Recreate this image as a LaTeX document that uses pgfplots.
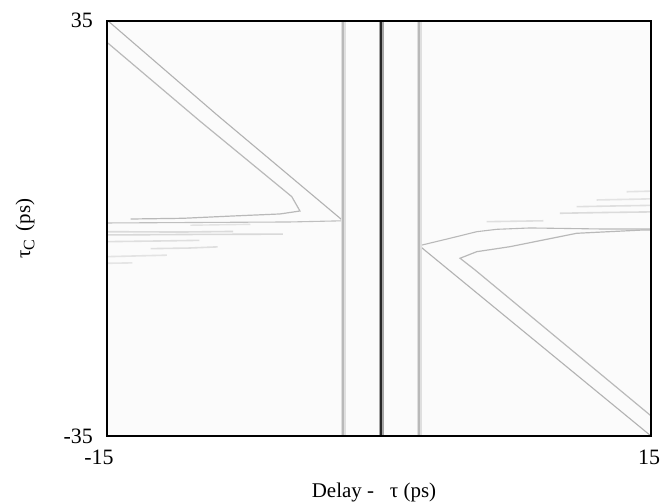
\documentclass[border=0pt]{standalone}
\usepackage{fontspec}
\setmainfont{Liberation Serif}
\usepackage{pgfplots}
\pgfplotsset{compat=1.18}
\begin{document}
\begin{tikzpicture}[x=1bp,y=1bp]
\useasboundingbox (0,0) rectangle (672,504);
\begin{axis}[
  at={(107bp,68bp)}, anchor=south west,
  scale only axis, width=544bp, height=415bp,
  xmin=-15, xmax=15, ymin=-35, ymax=35,
  xtick={-15,15}, xticklabels={{-15\kern16bp},{15\kern4bp}},
  ytick={-35,35}, yticklabels={-35,\raisebox{2bp}{35}},
  major tick length=0pt,
  axis on top,
  axis line style={line width=2.5bp},
  axis background/.style={fill=gray!3},
  tick label style={font=\fontsize{22}{24}\selectfont},
  xticklabel style={anchor=north, inner sep=0pt, yshift=-14bp},
  yticklabel style={anchor=east, inner sep=0pt, xshift=-14bp},
  xlabel={Delay -\hspace{0.76em}τ (ps)},
  ylabel={τ\raisebox{-0.45ex}{\fontsize{16}{18}\selectfont C}\hspace{0.15em} (ps)},
  label style={font=\fontsize{21}{24}\selectfont},
  xlabel style={at={(axis description cs:0.5,0)}, anchor=base, yshift=-62bp, xshift=-5bp},
  ylabel style={at={(axis description cs:0,0.5)}, anchor=center, yshift=82bp},
]
% faint streaks (left)
\addplot[gray!28, line width=1.6bp] coordinates {(-15,-0.54) (-11,-0.6) (-8.05,-0.5)};
\addplot[gray!30, line width=1.6bp] coordinates {(-15,-1.09) (-10,-1.0) (-5.3,-0.95)};
\addplot[gray!25, line width=1.6bp] coordinates {(-15,-2.22) (-12,-2.1) (-9.9,-2.0)};
\addplot[gray!25, line width=1.6bp] coordinates {(-12.6,-3.4) (-10.5,-3.3) (-8.9,-3.1)};
\addplot[gray!22, line width=1.6bp] coordinates {(-15,-4.75) (-13,-4.6) (-11.7,-4.5)};
\addplot[gray!20, line width=1.6bp] coordinates {(-15,-5.87) (-13.6,-5.8)};
\addplot[gray!22, line width=1.4bp] coordinates {(-10.4,0.55) (-7.1,0.7)};
% faint streaks (right)
\addplot[gray!25, line width=1.6bp] coordinates {(5.94,1.15) (9.06,1.3)};
\addplot[gray!28, line width=1.6bp] coordinates {(9.98,2.57) (12.5,2.7) (15,2.8)};
\addplot[gray!25, line width=1.6bp] coordinates {(10.9,3.68) (13,3.8) (15,3.9)};
\addplot[gray!22, line width=1.6bp] coordinates {(12.0,4.81) (15,5.0)};
\addplot[gray!22, line width=1.6bp] coordinates {(13.66,6.2) (15,6.3)};
% left branches
\addplot[gray!60, line width=1.1bp] coordinates {(-14.9,34.9) (-8.95,19.2) (-1.97,1.27)};
\addplot[gray!55, line width=1.2bp] coordinates {(-15,31.4) (-9.87,18.1) (-4.81,5.37) (-4.36,2.95) (-5.46,2.45) (-8.05,2.11) (-10.81,1.72) (-13.7,1.6)};
\addplot[gray!50, line width=1.1bp] coordinates {(-15,0.93) (-4.91,1.1) (-1.97,1.3)};
% right branches
\addplot[gray!55, line width=1.1bp] coordinates {(2.22,-2.9) (3.92,-1.65) (5.39,-0.54) (6.49,-0.14) (8.33,0.09) (12.19,-0.08) (15,-0.08)};
\addplot[gray!55, line width=1.2bp] coordinates {(15,-0.25) (14.58,-0.25) (10.90,-0.81) (9.06,-1.94) (7.22,-3.07) (5.39,-3.91) (4.47,-5.02) (5.3,-7.0) (15,-31.6)};
\addplot[gray!60, line width=1.1bp] coordinates {(2.22,-2.9) (15,-35)};
% vertical lines
\addplot[gray!25, line width=5bp] coordinates {(-1.97,-35) (-1.97,35)};
\addplot[gray!55, line width=2bp] coordinates {(-1.97,-35) (-1.97,35)};
\addplot[gray!25, line width=5bp] coordinates {(2.22,-35) (2.22,35)};
\addplot[gray!55, line width=2bp] coordinates {(2.22,-35) (2.22,35)};
\addplot[black!35, line width=4.5bp] coordinates {(0.13,-35) (0.13,35)};
\addplot[black!85, line width=2.2bp] coordinates {(0.13,-35) (0.13,35)};
\end{axis}
\end{tikzpicture}
\end{document}
